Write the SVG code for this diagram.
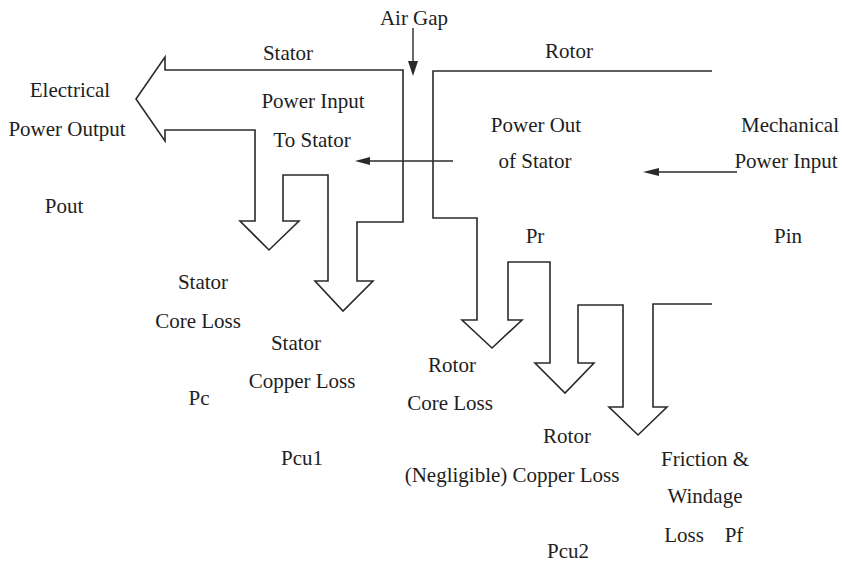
<svg xmlns="http://www.w3.org/2000/svg" width="842" height="566" viewBox="0 0 842 566">
<defs>
<style>
.ln{fill:none;stroke:#2a2a2a;stroke-width:1.6;stroke-linejoin:miter}
.ar{fill:none;stroke:#2a2a2a;stroke-width:1.4}
.hd{fill:#2a2a2a;stroke:none}
.t{font-family:'Liberation Serif','DejaVu Serif',serif;font-size:21px;fill:#1e1e1e;text-anchor:middle}
</style>
</defs>
<rect width="842" height="566" fill="#ffffff"/>
<g id="stator">
<path class="ln" d="M165,70 L165,57 L136,99 L165,141 L165,130 L255,130 L255,221 L240,221 L269,250 L299,221 L283,221 L283,175 L328,175 L328,281 L315,281 L343,311 L373,281 L357,281 L357,222 L403,222 L403,70 Z"/>
</g>
<g id="rotor">
<path class="ln" d="M712,71 L433,71 L433,218 L477,218 L477,320 L462,320 L492,348 L522,320 L508,320 L508,262 L550,262 L550,363 L535,363 L565,393 L594,363 L578,363 L578,305 L623,305 L623,407 L609,407 L638,435 L667,407 L653,407 L653,304 L712,304"/>
</g>
<g id="connectors">
<line class="ar" x1="413" y1="28" x2="413" y2="64"/>
<path class="hd" d="M408,61 L418,61 L413,76 Z"/>
<line class="ar" x1="453" y1="161" x2="366" y2="161"/>
<path class="hd" d="M370,157 L370,165 L355,161 Z"/>
<line class="ar" x1="737" y1="172" x2="655" y2="172"/>
<path class="hd" d="M659,168 L659,176 L643,172 Z"/>
</g>
<g id="labels" class="t">
<text class="t" x="414" y="25">Air Gap</text>
<text class="t" x="288" y="60">Stator</text>
<text class="t" x="569" y="58">Rotor</text>
<text class="t" x="70" y="97">Electrical</text>
<text class="t" x="67" y="136">Power Output</text>
<text class="t" x="64" y="213">Pout</text>
<text class="t" x="313" y="108">Power Input</text>
<text class="t" x="312" y="147">To Stator</text>
<text class="t" x="536" y="132">Power Out</text>
<text class="t" x="535" y="168">of Stator</text>
<text class="t" x="790" y="132">Mechanical</text>
<text class="t" x="786" y="168">Power Input</text>
<text class="t" x="535" y="243">Pr</text>
<text class="t" x="788" y="243">Pin</text>
<text class="t" x="203" y="289">Stator</text>
<text class="t" x="198" y="328">Core Loss</text>
<text class="t" x="296" y="350">Stator</text>
<text class="t" x="302" y="388">Copper Loss</text>
<text class="t" x="199" y="405">Pc</text>
<text class="t" x="302" y="465">Pcu1</text>
<text class="t" x="452" y="372">Rotor</text>
<text class="t" x="450" y="410">Core Loss</text>
<text class="t" x="567" y="443">Rotor</text>
<text class="t" x="512" y="482">(Negligible) Copper Loss</text>
<text class="t" x="568" y="558">Pcu2</text>
<text class="t" x="705" y="466">Friction &amp;</text>
<text class="t" x="705" y="503">Windage</text>
<text class="t" x="684" y="542">Loss</text>
<text class="t" x="734" y="542">Pf</text>
</g>
</svg>
